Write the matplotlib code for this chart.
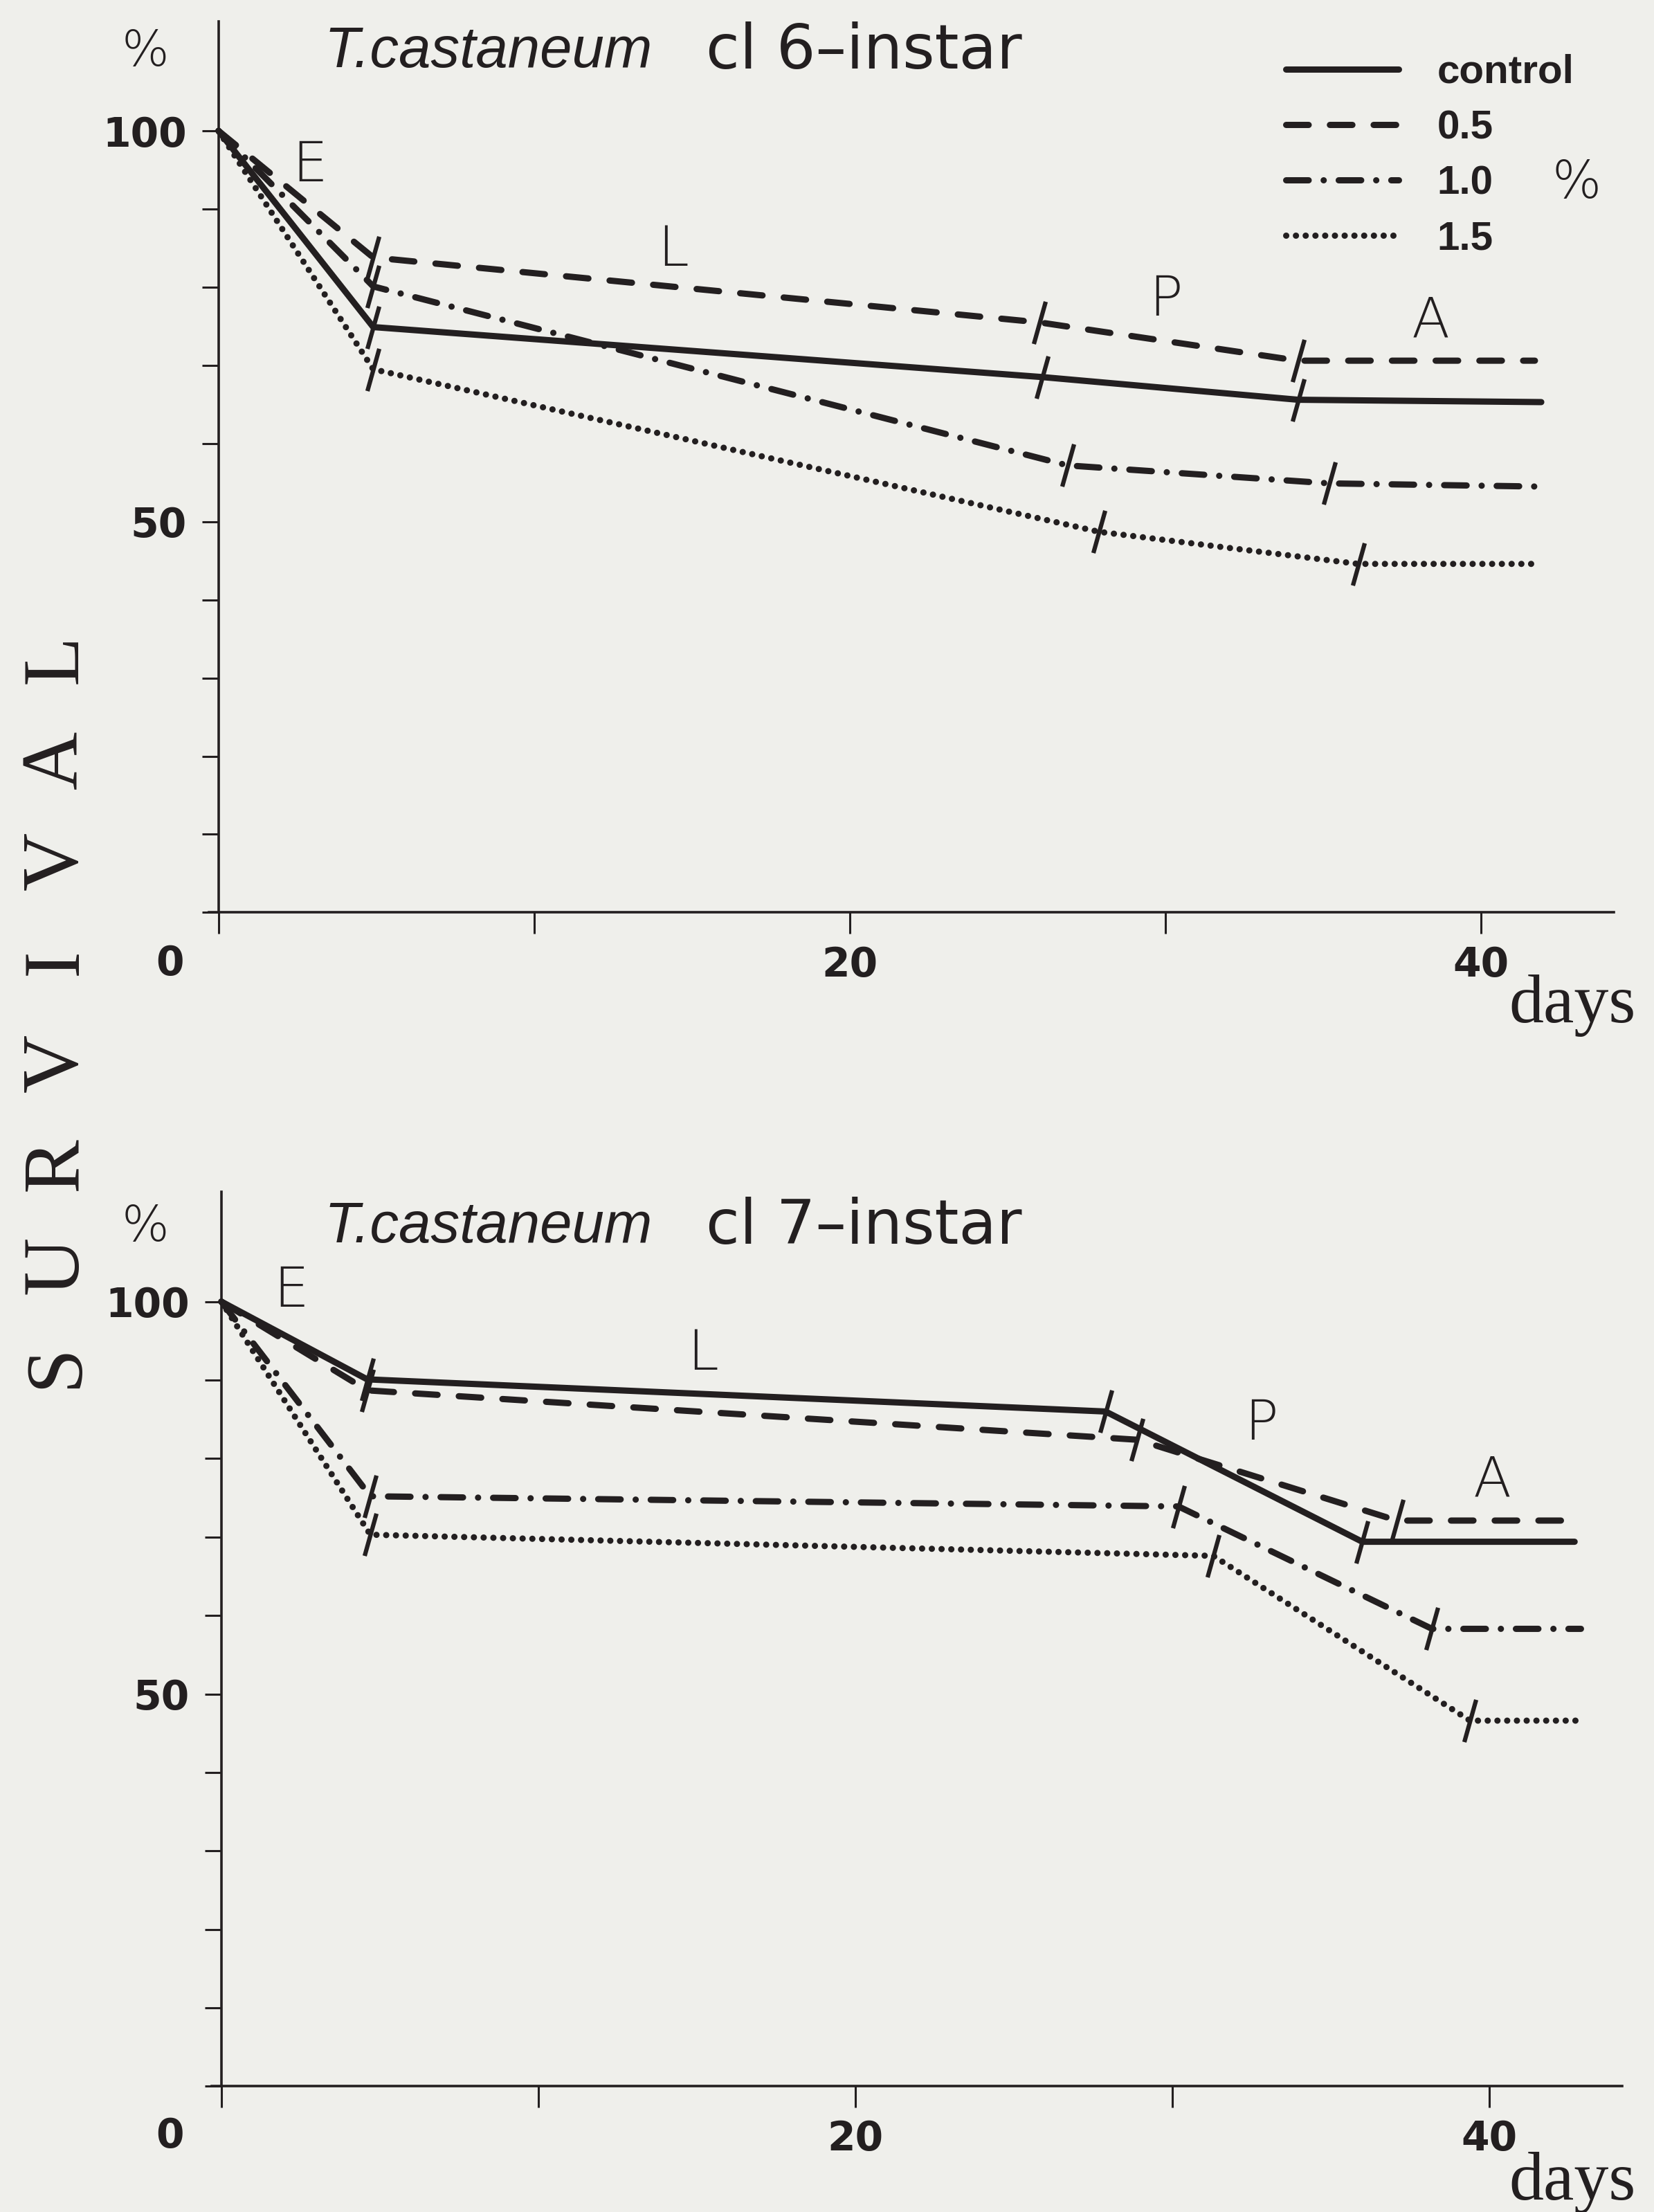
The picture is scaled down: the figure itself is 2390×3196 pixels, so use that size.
import matplotlib
matplotlib.use('Agg')
import matplotlib.pyplot as plt
from matplotlib.path import Path
from matplotlib.lines import Line2D

# ---------------- data ----------------
series = ['control', '0.5', '1.0', '1.5']

# panel 1: T.castaneum cl 6-instar
c6_control_days = [0, 4.9, 26.1, 34.2, 41.9]
c6_control_surv = [100, 74.9, 68.5, 65.6, 65.3]
c6_05_days = [0, 4.9, 26.0, 34.2, 41.7]
c6_05_surv = [100, 83.8, 75.5, 70.6, 70.6]
c6_10_days = [0, 4.9, 26.9, 35.2, 41.7]
c6_10_surv = [100, 80.1, 57.2, 54.9, 54.5]
c6_15_days = [0, 4.9, 27.9, 36.1, 41.7]
c6_15_surv = [100, 69.5, 48.7, 44.6, 44.6]

# panel 2: T.castaneum cl 7-instar
c7_control_days = [0, 4.6, 27.9, 36.0, 42.7]
c7_control_surv = [100, 90.1, 86.0, 69.4, 69.4]
c7_05_days = [0, 4.6, 28.9, 37.1, 42.9]
c7_05_surv = [100, 88.7, 82.4, 72.1, 72.1]
c7_10_days = [0, 4.7, 30.2, 38.2, 42.9]
c7_10_surv = [100, 75.2, 73.9, 58.3, 58.3]
c7_15_days = [0, 4.7, 31.3, 39.4, 43.0]
c7_15_surv = [100, 70.3, 67.6, 46.6, 46.6]

stages = ['E', 'L', 'P', 'A']
c6_stage_days = [2.9, 14.4, 30.0, 38.4]
c6_stage_surv = [95.5, 84.7, 78.3, 75.6]
c7_stage_days = [2.2, 15.2, 32.8, 40.1]
c7_stage_surv = [101.3, 93.3, 84.4, 77.2]

x_ticks = [0, 10, 20, 30, 40]
x_ticklabels = ['', '', '20', '', '40']
y_ticks = [0, 10, 20, 30, 40, 50, 60, 70, 80, 90, 100]
y_ticklabels = ['', '', '', '', '', '50', '', '', '', '', '100']

# ---------------- style ----------------
BG = '#efefeb'
INK = '#231f20'
LW = 6.5
styles = {
    'control': dict(linestyle='-', solid_capstyle='round'),
    '0.5': dict(linestyle=(0, (3.6, 3.4)), dash_capstyle='round'),
    '1.0': dict(linestyle=(0, (3.6, 2.4, 0.01, 2.4)), dash_capstyle='round'),
    '1.5': dict(linestyle=(0, (0.01, 1.55)), dash_capstyle='round'),
}
slash = Path([(-0.28, -1.0), (0.28, 1.0)], [Path.MOVETO, Path.LINETO])

W, H = 2390, 3196
fig = plt.figure(figsize=(W / 100, H / 100), dpi=100, facecolor=BG)

def px(x, y):
    return x / W, 1 - y / H

ax1 = fig.add_axes([293 / W, (H - 1341) / H, (2332 - 293) / W, (1341 - 31) / H])
ax2 = fig.add_axes([297 / W, (H - 3037) / H, (2344 - 297) / W, (3037 - 1722) / H])

panels = [
    (ax1, [(c6_control_days, c6_control_surv), (c6_05_days, c6_05_surv),
           (c6_10_days, c6_10_surv), (c6_15_days, c6_15_surv)],
     c6_stage_days, c6_stage_surv),
    (ax2, [(c7_control_days, c7_control_surv), (c7_05_days, c7_05_surv),
           (c7_10_days, c7_10_surv), (c7_15_days, c7_15_surv)],
     c7_stage_days, c7_stage_surv),
]

for ax, data, sd, ss in panels:
    ax.set_facecolor('none')
    ax.set_xlim(-0.5, 44.2)
    ax.set_ylim(-2, 114)
    for name, (d, s) in zip(series, data):
        ax.plot(d, s, color=INK, lw=LW, marker=slash, markersize=44,
                markeredgewidth=4.5, markeredgecolor=INK, markevery=[1, 2, 3],
                **styles[name])
    for lab, d, s in zip(stages, sd, ss):
        ax.text(d, s, lab, fontsize=58, family='DejaVu Sans', fontweight='light',
                color=INK, ha='center', va='center')
    for sp in ['top', 'right']:
        ax.spines[sp].set_visible(False)
    ax.spines['left'].set_position(('data', 0))
    ax.spines['bottom'].set_position(('data', 0))
    ax.spines['left'].set_bounds(0, 114)
    ax.spines['bottom'].set_bounds(-0.3, 44.2)
    for sp in ['left', 'bottom']:
        ax.spines[sp].set_linewidth(2.6)
        ax.spines[sp].set_color(INK)
    ax.set_xticks(x_ticks)
    ax.set_xticklabels(x_ticklabels)
    ax.set_yticks(y_ticks)
    ax.set_yticklabels(y_ticklabels)
    ax.tick_params(axis='x', direction='out', length=22, width=2.2, colors=INK, pad=12,
                   labelsize=42)
    ax.tick_params(axis='y', direction='out', length=17, width=2.2, colors=INK, pad=16,
                   labelsize=42)
    for t in ax.get_xticklabels() + ax.get_yticklabels():
        t.set_fontweight('bold')
        t.set_family('DejaVu Sans')

# origin "0" labels
fig.text(*px(245, 1392), '0', fontsize=42, fontweight='bold', color=INK,
         ha='center', va='center')
fig.text(*px(245, 3087), '0', fontsize=42, fontweight='bold', color=INK,
         ha='center', va='center')

# "%" unit labels and titles
for ytop in (75, 1773):
    fig.text(*px(210, ytop), '%', fontsize=52, fontweight='light', color=INK,
             ha='center', va='center')
    fig.text(*px(469, ytop), 'T.castaneum', fontsize=60, style='italic',
             family='Liberation Sans', color=INK, ha='left', va='center')
fig.text(*px(1020, 75), 'cl 6\u2013instar', fontsize=64, fontweight='normal',
         family='DejaVu Sans', color=INK, ha='left', va='center')
fig.text(*px(1020, 1773), 'cl 7\u2013instar', fontsize=64, fontweight='normal',
         family='DejaVu Sans', color=INK, ha='left', va='center')

# "days" labels
fig.text(*px(2272, 1453), 'days', fontsize=72, family='Liberation Serif',
         color=INK, ha='center', va='center')
fig.text(*px(2272, 3154), 'days', fontsize=72, family='Liberation Serif',
         color=INK, ha='center', va='center')

# S U R V I V A L
word = 'SURVIVAL'
y_start, y_end = 1974, 952
for i, ch in enumerate(word):
    yy = y_start + (y_end - y_start) * i / (len(word) - 1)
    fig.text(*px(83, yy), ch, fontsize=84, family='Liberation Serif',
             rotation=90, color=INK, ha='center', va='center')

# legend (top panel)
handles = [Line2D([0], [0], color=INK, lw=LW, **styles[n]) for n in series]
leg = ax1.legend(handles, series, loc='upper left',
                 bbox_to_anchor=px(1858, 78), bbox_transform=fig.transFigure,
                 frameon=False, handlelength=2.8, handletextpad=0.95,
                 labelspacing=0.45, borderpad=0, borderaxespad=0,
                 prop=dict(family=['Liberation Sans Narrow', 'Liberation Sans'],
                           weight='bold', size=42))
for t in leg.get_texts():
    t.set_color(INK)
fig.text(*px(2278, 265), '%', fontsize=54, fontweight='light', color=INK,
         ha='center', va='center')

fig.savefig('out.png', dpi=100, facecolor=BG)
